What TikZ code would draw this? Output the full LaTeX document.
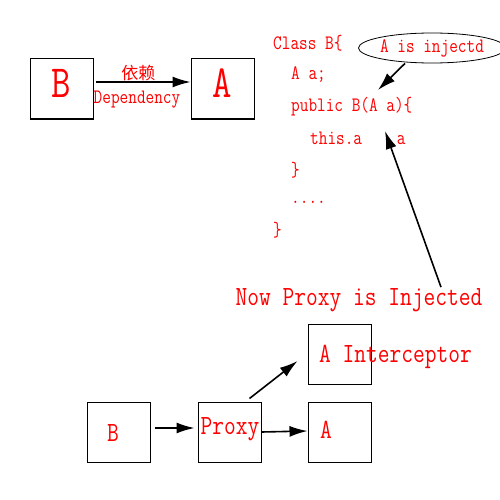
\documentclass[tikz,border=0pt]{standalone}
\usepackage{fontspec}
\newfontfamily\cjk{Noto Sans CJK SC}
\newfontfamily\codefont{Latin Modern Mono}[FakeStretch=0.82]
\usetikzlibrary{shapes.geometric,arrows.meta}

\tikzset{
	box/.style={draw, line width=1pt, minimum width=63pt, minimum height=60pt, inner sep=0pt},
	code/.style={text=red, font=\codefont\fontsize{20.5}{20.5}\selectfont, inner sep=0pt, anchor=west},
	big/.style={text=red, font=\codefont\fontsize{27.8}{27.8}\selectfont, inner sep=0pt},
	huge/.style={text=red, font=\codefont\fontsize{46}{46}\selectfont, text depth=12pt},
	arr/.style={line width=1.6pt, -{Latex[length=18pt,width=11pt]}}
}

\begin{document}
\begin{tikzpicture}[x=1pt, y=-1pt]
	\useasboundingbox (0,0) rectangle (500,500);
	
	% top: B depends on A
	\node[box, huge] (B) at (61.5,89) {B};
	\node[box, huge] (A) at (222.5,89) {A};
	\draw[arr] ([xshift=2pt,yshift=7pt]B.east) -- ([yshift=7pt]A.west)
		node[pos=0.45, code, anchor=center, yshift=9pt, font=\cjk\fontsize{17}{17}\selectfont] (dep) {依赖};
	\node[code, anchor=center] (dependency) at (137,100) {Dependency};
	
	% class code
	\foreach \name/\x/\y/\txt in {c1/273/43/{Class B\{}, c2/291/75/{A a;}, c3/291/107/{public B(A a)\{},
		c4/310/138/{this.a\ \ \ \ a}, c5/291/170/{\}}, c6/291/202/{....}, c7/273/230/{\}}}
		\node[code] (\name) at (\x,\y) {\txt};
	
	\node[ellipse, draw, line width=0.8pt, minimum width=123pt, minimum height=30pt, inner sep=0pt,
		code, anchor=center] (inj) at (432,48) {A is injectd};
	\coordinate (ctor) at (378,90);
	\coordinate (assign) at (385,131);
	\draw[arr] ([xshift=-27pt]inj.south) -- (ctor);
	
	\node[big, anchor=center] (now) at (359,300) {Now Proxy is Injected};
	\draw[arr] ([xshift=82pt,yshift=1pt]now.north) -- (assign);
	
	% bottom: proxy
	\node[box] (b2) at (118.5,432) {};
	\node[box] (proxy) at (229.5,432) {};
	\node[box] (a2) at (339.5,432) {};
	\node[box] (icpt) at (339.5,354) {};
	\node[big] (lb) at (113,433) {B};
	\node[big] (lproxy) at (230,429) {Proxy};
	\node[big, anchor=west] (la) at (320,430) {A};
	\node[big, anchor=west] (licpt) at (319,357) {A Interceptor};
	
	\draw[arr] ([xshift=4pt,yshift=4pt]b2.east) -- ([xshift=-3pt,yshift=4pt]proxy.west);
	\draw[arr] (proxy.east) -- ([yshift=1pt]a2.west);
	\draw[arr] ([xshift=20pt,yshift=3pt]proxy.north) -- ([xshift=-10pt,yshift=-7pt]icpt.west);
\end{tikzpicture}
\end{document}
